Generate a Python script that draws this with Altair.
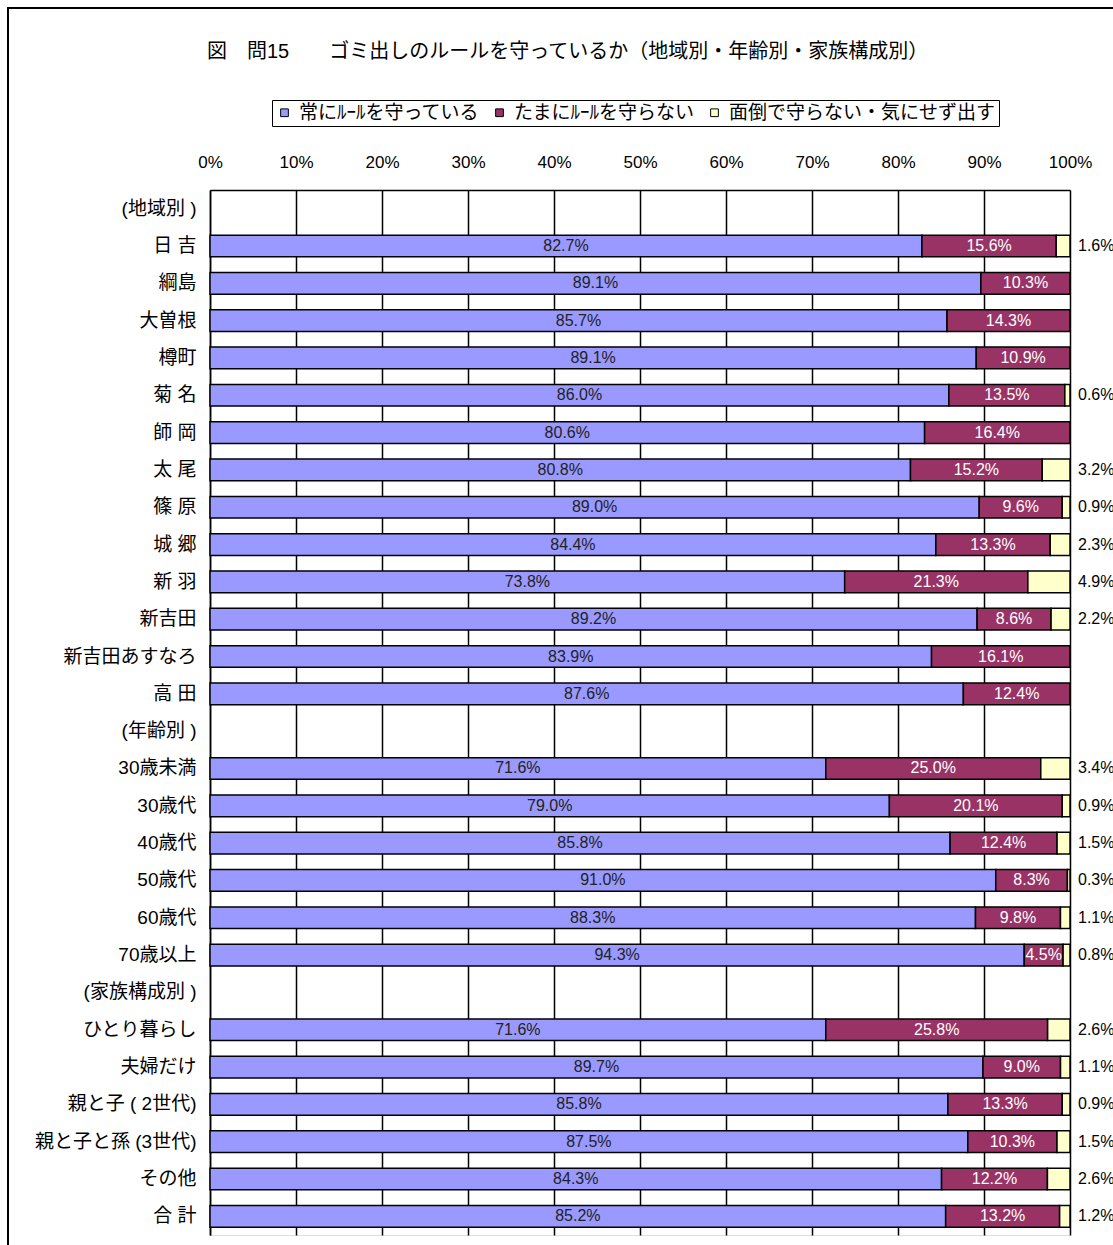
import altair as alt
import pandas as pd

FONT = "Liberation Sans, Noto Sans CJK JP"

categories = ["(地域別 )", "日 吉", "綱島", "大曽根", "樽町", "菊 名", "師 岡", "太 尾",
              "篠 原", "城 郷", "新 羽", "新吉田", "新吉田あすなろ", "高 田",
              "(年齢別 )", "30歳未満", "30歳代", "40歳代", "50歳代", "60歳代", "70歳以上",
              "(家族構成別 )", "ひとり暮らし", "夫婦だけ", "親と子 ( 2世代)", "親と子と孫 (3世代)",
              "その他", "合 計"]

bar_rows = ["日 吉", "綱島", "大曽根", "樽町", "菊 名", "師 岡", "太 尾", "篠 原", "城 郷",
            "新 羽", "新吉田", "新吉田あすなろ", "高 田",
            "30歳未満", "30歳代", "40歳代", "50歳代", "60歳代", "70歳以上",
            "ひとり暮らし", "夫婦だけ", "親と子 ( 2世代)", "親と子と孫 (3世代)", "その他", "合 計"]

always = [82.7, 89.1, 85.7, 89.1, 86.0, 80.6, 80.8, 89.0, 84.4, 73.8, 89.2, 83.9, 87.6,
          71.6, 79.0, 85.8, 91.0, 88.3, 94.3,
          71.6, 89.7, 85.8, 87.5, 84.3, 85.2]
sometimes = [15.6, 10.3, 14.3, 10.9, 13.5, 16.4, 15.2, 9.6, 13.3, 21.3, 8.6, 16.1, 12.4,
             25.0, 20.1, 12.4, 8.3, 9.8, 4.5,
             25.8, 9.0, 13.3, 10.3, 12.2, 13.2]
bother = [1.6, None, None, None, 0.6, None, 3.2, 0.9, 2.3, 4.9, 2.2, None, None,
          3.4, 0.9, 1.5, 0.3, 1.1, 0.8,
          2.6, 1.1, 0.9, 1.5, 2.6, 1.2]

series = ["常にﾙｰﾙを守っている", "たまにﾙｰﾙを守らない", "面倒で守らない・気にせず出す"]
colors = ["#9999FF", "#993366", "#FFFFCC"]
x_ticks = [0, 0.1, 0.2, 0.3, 0.4, 0.5, 0.6, 0.7, 0.8, 0.9, 1.0]

rows = []
for i, cat in enumerate(bar_rows):
    for k, vals in enumerate([always, sometimes, bother]):
        v = vals[i]
        if v is None:
            continue
        rows.append({"cat": cat, "series": series[k], "order": k, "value": v,
                     "label": f"{v:.1f}%"})
df = pd.DataFrame(rows)

yenc = alt.Y("cat:N", sort=categories,
             scale=alt.Scale(domain=categories, paddingInner=0.42, paddingOuter=0.21),
             axis=alt.Axis(title=None, labelFontSize=19, labelFont=FONT, labelColor="black",
                           labelPadding=14, ticks=False, domainColor="black",
                           domainWidth=1.5, labelLimit=300))

base = alt.Chart(df).transform_stack(
    stack="value", groupby=["cat"], as_=["x0", "x1"], offset="normalize",
    sort=[alt.SortField("order", order="ascending")]
).transform_calculate(mid="(datum.x0 + datum.x1) / 2")

bars = base.mark_bar(stroke="black", strokeWidth=1.5).encode(
    x=alt.X("x0:Q", scale=alt.Scale(domain=[0, 1], nice=False),
            axis=alt.Axis(orient="top", format="%", values=x_ticks, title=None,
                          labelFontSize=17, labelFont=FONT, labelColor="black",
                          labelPadding=19, ticks=False, grid=True, labelFlush=False,
                          gridColor="black", gridWidth=1.5, gridOpacity=1,
                          domainColor="black", domainWidth=1.5)),
    x2="x1:Q",
    y=yenc,
    color=alt.Color("series:N", scale=alt.Scale(domain=series, range=colors),
                    legend=alt.Legend(title=None, orient="none", legendX=62, legendY=-90,
                                      direction="horizontal", columns=3,
                                      strokeColor="black", padding=3,
                                      fillColor="white",
                                      labelFontSize=19, labelFont=FONT, labelColor="black",
                                      symbolType="square", symbolSize=60,
                                      symbolStrokeColor="black", symbolStrokeWidth=1,
                                      columnPadding=10, labelOffset=5, labelLimit=400)),
)

blue_txt = base.transform_filter("datum.order == 0").mark_text(
    fontSize=16, font=FONT, color="#222222").encode(
    x="mid:Q", y=alt.Y("cat:N", sort=categories), text="label:N")

red_txt = base.transform_filter("datum.order == 1").mark_text(
    fontSize=16, font=FONT, color="white").encode(
    x="mid:Q", y=alt.Y("cat:N", sort=categories), text="label:N")

yel_txt = base.transform_filter("datum.order == 2").mark_text(
    fontSize=16, font=FONT, color="black", align="left", dx=8).encode(
    x="x1:Q", y=alt.Y("cat:N", sort=categories), text="label:N")

frame = alt.Chart(pd.DataFrame({"a": [0]})).mark_rect(
    fill=None, stroke="black", strokeWidth=2).encode(
    x=alt.value(-202), x2=alt.value(940), y=alt.value(-182), y2=alt.value(1080))

chart = alt.layer(frame, bars, blue_txt, red_txt, yel_txt).properties(
    width=860, height=1045,
    autosize=alt.AutoSizeParams(type="none"),
    padding={"left": 210, "top": 190, "right": 43, "bottom": 10},
    title=alt.TitleParams(
        text="図\u3000問15\u3000\u3000ゴミ出しのルールを守っているか（地域別・年齢別・家族構成別）",
        anchor="start", dx=200, dy=55, offset=0, fontSize=20, font=FONT,
        fontWeight="normal", color="black"),
).configure_view(stroke="#808080", strokeWidth=1.5).configure(background="white")

chart.save("out.html", embed_options={"renderer": "svg", "actions": False})
